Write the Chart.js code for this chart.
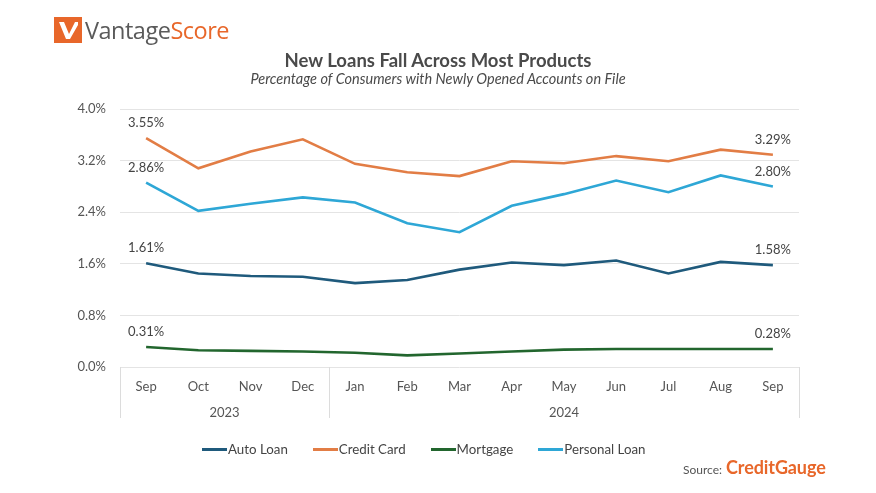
<!DOCTYPE html>
<html>
<head>
<meta charset="utf-8">
<script src="https://cdn.jsdelivr.net/npm/chart.js@4"></script>
<style>
  html, body { margin: 0; padding: 0; background: #fff; }
  #wrap { position: relative; width: 876px; height: 493px; overflow: hidden; font-family: Lato, "Open Sans", sans-serif; }
  #c { position: absolute; left: 0; top: 0; }
  .logo { position: absolute; left: 54px; top: 16px; height: 28px; display: flex; align-items: center; }
  .logo svg { display: block; }
  .logo .word { margin-left: 3px; font-family: "Open Sans", Lato, sans-serif; font-size: 23.5px; letter-spacing: -0.5px; line-height: 28px; }
  .logo .v { color: #5a5a5a; }
  .logo .s { color: #e8672a; }
  .title { position: absolute; left: 0; width: 876px; text-align: center; top: 49px; font-size: 18.5px; font-weight: bold; color: #4a4a4a; }
  .subtitle { position: absolute; left: 0; width: 876px; text-align: center; top: 70px; font-size: 14.5px; font-style: italic; color: #4a4a4a; }
  #legend { position: absolute; left: 202px; top: 441px; display: flex; font-size: 13.3px; color: #444; }
  #legend .item { display: flex; align-items: center; margin-right: 25px; }
  #legend .swatch { width: 25px; height: 3px; margin-right: 1px; }
  .source { position: absolute; left: 683px; top: 456px; display: flex; align-items: baseline; }
  .source .lab { font-size: 12px; color: #555; margin-right: 4px; }
  .source .cg { font-size: 18px; font-weight: bold; color: #e8672a; letter-spacing: -0.1px; }
</style>
</head>
<body>
<div id="wrap">
  <canvas id="c" width="876" height="493"></canvas>
  <div class="logo">
    <svg width="28" height="26" viewBox="0 0 28 26">
      <rect x="0" y="0" width="28" height="26" fill="#e8672a"/>
      <polygon points="5,5 10,5 15,17 21,5 24,5 24,8 16,22 12,22" fill="#fff"/>
    </svg>
    <span class="word"><span class="v">Vantage</span><span class="s">Score</span></span>
  </div>
  <div class="title">New Loans Fall Across Most Products</div>
  <div class="subtitle">Percentage of Consumers with Newly Opened Accounts on File</div>
  <div id="legend"></div>
  <div class="source"><span class="lab">Source:</span><span class="cg">CreditGauge</span></div>
</div>
<script>
// ---- Data ----
const months = ["Sep","Oct","Nov","Dec","Jan","Feb","Mar","Apr","May","Jun","Jul","Aug","Sep"];
const years = ["2023","2024"];
const yearStartIndex = [0, 4];
const seriesNames = ["Auto Loan","Credit Card","Mortgage","Personal Loan"];
const autoLoan     = [1.61,1.45,1.41,1.40,1.30,1.35,1.51,1.62,1.58,1.65,1.45,1.63,1.58];
const creditCard   = [3.55,3.08,3.34,3.53,3.15,3.02,2.96,3.19,3.16,3.27,3.19,3.37,3.29];
const mortgage     = [0.31,0.26,0.25,0.24,0.22,0.18,0.21,0.24,0.27,0.28,0.28,0.28,0.28];
const personalLoan = [2.86,2.42,2.53,2.63,2.55,2.23,2.09,2.50,2.68,2.89,2.71,2.97,2.80];
const yTicks = [0, 0.8, 1.6, 2.4, 3.2, 4.0];

const colors = ["#1f5a7c", "#e27d45", "#22662e", "#2ea7d6"];
const seriesData = [autoLoan, creditCard, mortgage, personalLoan];

// ---- Legend (HTML) ----
const legendEl = document.getElementById('legend');
seriesNames.forEach((n, i) => {
  const it = document.createElement('div'); it.className = 'item';
  const sw = document.createElement('div'); sw.className = 'swatch'; sw.style.background = colors[i];
  const tx = document.createElement('span'); tx.textContent = n;
  it.appendChild(sw); it.appendChild(tx); legendEl.appendChild(it);
});

// ---- Plugins ----
const endLabels = {
  id: 'endLabels',
  afterDatasetsDraw(chart) {
    const ctx = chart.ctx;
    ctx.save();
    ctx.font = '13px Lato';
    ctx.fillStyle = '#444';
    ctx.textAlign = 'center';
    ctx.textBaseline = 'middle';
    chart.data.datasets.forEach((ds, di) => {
      const meta = chart.getDatasetMeta(di);
      [0, ds.data.length - 1].forEach(idx => {
        const pt = meta.data[idx];
        ctx.fillText(ds.data[idx].toFixed(2) + '%', pt.x, pt.y - 15);
      });
    });
    ctx.restore();
  }
};

const yearAxis = {
  id: 'yearAxis',
  afterDraw(chart) {
    const ctx = chart.ctx;
    const xs = chart.scales.x;
    const top = chart.chartArea.bottom;
    const bottom = top + 51;
    const n = months.length;
    const bounds = [];
    yearStartIndex.forEach((s, k) => {
      const e = (k + 1 < yearStartIndex.length ? yearStartIndex[k + 1] : n) - 1;
      const l = s === 0 ? xs.left : (xs.getPixelForValue(s - 1) + xs.getPixelForValue(s)) / 2;
      const r = e === n - 1 ? xs.right : (xs.getPixelForValue(e) + xs.getPixelForValue(e + 1)) / 2;
      bounds.push([l, r]);
    });
    ctx.save();
    ctx.strokeStyle = '#dcdcdc';
    ctx.lineWidth = 1;
    const edges = [bounds[0][0]];
    bounds.forEach(b => edges.push(b[1]));
    edges.forEach(x => {
      const px = Math.round(x) + 0.5;
      ctx.beginPath(); ctx.moveTo(px, top); ctx.lineTo(px, bottom); ctx.stroke();
    });
    ctx.font = '13px Lato';
    ctx.fillStyle = '#555';
    ctx.textAlign = 'center';
    ctx.textBaseline = 'middle';
    years.forEach((y, k) => {
      ctx.fillText(y, (bounds[k][0] + bounds[k][1]) / 2, top + 46);
    });
    ctx.restore();
  }
};

// ---- Chart ----
new Chart(document.getElementById('c'), {
  type: 'line',
  data: {
    labels: months,
    datasets: seriesNames.map((n, i) => ({
      label: n,
      data: seriesData[i],
      borderColor: colors[i],
      backgroundColor: colors[i],
      borderWidth: 2.6,
      pointRadius: 0,
      tension: 0,
      fill: false
    }))
  },
  options: {
    responsive: false,
    animation: false,
    layout: { padding: { left: 0, top: 109, right: 77, bottom: 0 } },
    plugins: { legend: { display: false }, tooltip: { enabled: false }, title: { display: false } },
    scales: {
      x: {
        offset: true,
        grid: { display: false, drawTicks: false },
        border: { display: false },
        ticks: { color: '#555', font: { family: 'Lato', size: 13 }, padding: 12, maxRotation: 0, autoSkip: false },
        afterFit(s) { s.height = 493 - 367; }
      },
      y: {
        min: 0, max: 4.0,
        afterBuildTicks(s) { s.ticks = yTicks.map(v => ({ value: v })); },
        grid: { color: '#e4e4e4', drawTicks: false, lineWidth: 1 },
        border: { display: false },
        ticks: { color: '#555', font: { family: 'Lato', size: 13 }, padding: 14,
                 callback: v => v.toFixed(1) + '%' },
        afterFit(s) { s.width = 120; }
      }
    }
  },
  plugins: [endLabels, yearAxis]
});
</script>
</body>
</html>
